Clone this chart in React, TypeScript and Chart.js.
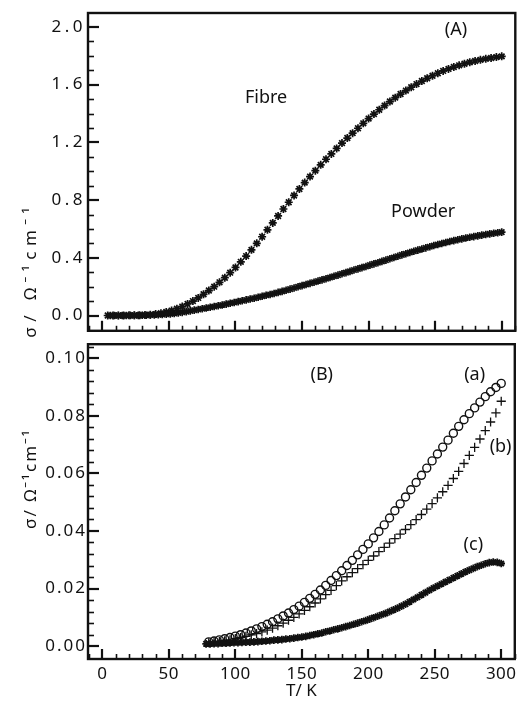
import React, { useEffect, useRef } from "react";
import { Chart, registerables } from "chart.js";

Chart.register(...registerables);

// ---------- Panel (A) ----------
const fibreT = [4, 8, 12, 16, 20, 24, 28, 32, 36, 40, 44, 48, 52, 56, 60, 64, 68, 72, 76, 80, 84, 88, 92, 96, 100, 104, 108, 112, 116, 120, 124, 128, 132, 136, 140, 144, 148, 152, 156, 160, 164, 168, 172, 176, 180, 184, 188, 192, 196, 200, 204, 208, 212, 216, 220, 224, 228, 232, 236, 240, 244, 248, 252, 256, 260, 264, 268, 272, 276, 280, 284, 288, 292, 296, 300];
const fibreSigma = [0.0, 0.0, 0.0, 0.0, 0.001, 0.001, 0.002, 0.004, 0.006, 0.01, 0.016, 0.024, 0.034, 0.047, 0.062, 0.08, 0.1, 0.122, 0.147, 0.173, 0.2, 0.23, 0.262, 0.297, 0.333, 0.372, 0.412, 0.455, 0.5, 0.546, 0.594, 0.642, 0.69, 0.738, 0.785, 0.832, 0.877, 0.921, 0.963, 1.004, 1.044, 1.083, 1.12, 1.158, 1.195, 1.23, 1.264, 1.298, 1.332, 1.365, 1.396, 1.426, 1.455, 1.483, 1.51, 1.535, 1.559, 1.582, 1.604, 1.625, 1.644, 1.662, 1.679, 1.695, 1.709, 1.722, 1.734, 1.745, 1.755, 1.764, 1.772, 1.779, 1.785, 1.791, 1.796];

const powderT = [6, 9, 12, 15, 18, 21, 24, 27, 30, 33, 36, 39, 42, 45, 48, 51, 54, 57, 60, 63, 66, 69, 72, 75, 78, 81, 84, 87, 90, 93, 96, 99, 102, 105, 108, 111, 114, 117, 120, 123, 126, 129, 132, 135, 138, 141, 144, 147, 150, 153, 156, 159, 162, 165, 168, 171, 174, 177, 180, 183, 186, 189, 192, 195, 198, 201, 204, 207, 210, 213, 216, 219, 222, 225, 228, 231, 234, 237, 240, 243, 246, 249, 252, 255, 258, 261, 264, 267, 270, 273, 276, 279, 282, 285, 288, 291, 294, 297, 300];
const powderSigma = [0.0, 0.0, 0.0, 0.0, 0.0, 0.001, 0.001, 0.001, 0.002, 0.002, 0.003, 0.004, 0.005, 0.007, 0.009, 0.011, 0.014, 0.018, 0.022, 0.027, 0.032, 0.037, 0.042, 0.047, 0.052, 0.057, 0.062, 0.068, 0.073, 0.079, 0.085, 0.09, 0.096, 0.102, 0.108, 0.114, 0.12, 0.127, 0.133, 0.14, 0.146, 0.153, 0.16, 0.167, 0.175, 0.183, 0.191, 0.199, 0.207, 0.215, 0.223, 0.231, 0.239, 0.247, 0.255, 0.263, 0.272, 0.28, 0.289, 0.297, 0.306, 0.315, 0.323, 0.332, 0.34, 0.349, 0.358, 0.366, 0.375, 0.384, 0.393, 0.402, 0.411, 0.42, 0.428, 0.437, 0.445, 0.453, 0.461, 0.469, 0.477, 0.485, 0.492, 0.499, 0.506, 0.513, 0.519, 0.525, 0.531, 0.537, 0.542, 0.547, 0.552, 0.557, 0.561, 0.566, 0.57, 0.574, 0.578];

// ---------- Panel (B) ----------
const abT = [80, 84, 88, 92, 96, 100, 104, 108, 112, 116, 120, 124, 128, 132, 136, 140, 144, 148, 152, 156, 160, 164, 168, 172, 176, 180, 184, 188, 192, 196, 200, 204, 208, 212, 216, 220, 224, 228, 232, 236, 240, 244, 248, 252, 256, 260, 264, 268, 272, 276, 280, 284, 288, 292, 296, 300];
const sigmaA = [0.0015, 0.0018, 0.0022, 0.0026, 0.003, 0.0035, 0.004, 0.0046, 0.0053, 0.006, 0.0068, 0.0076, 0.0085, 0.0095, 0.0105, 0.0115, 0.0127, 0.0139, 0.0152, 0.0166, 0.018, 0.0195, 0.0211, 0.0228, 0.0245, 0.0262, 0.028, 0.0298, 0.0317, 0.0336, 0.0355, 0.0376, 0.0398, 0.0421, 0.0445, 0.047, 0.0494, 0.0518, 0.0543, 0.0568, 0.0593, 0.0618, 0.0643, 0.0667, 0.0691, 0.0715, 0.0739, 0.0763, 0.0786, 0.0807, 0.0827, 0.0847, 0.0866, 0.0883, 0.0898, 0.0912];
const sigmaB = [0.0012, 0.0014, 0.0016, 0.0019, 0.0022, 0.0026, 0.003, 0.0034, 0.0039, 0.0044, 0.005, 0.0056, 0.0063, 0.0071, 0.008, 0.009, 0.01, 0.0112, 0.0124, 0.0137, 0.015, 0.0164, 0.0179, 0.0194, 0.021, 0.0227, 0.0241, 0.0255, 0.0269, 0.0283, 0.0298, 0.0313, 0.0328, 0.0343, 0.0358, 0.0373, 0.0389, 0.0405, 0.0422, 0.0439, 0.0457, 0.0476, 0.0495, 0.0515, 0.0536, 0.0558, 0.0582, 0.0607, 0.0634, 0.0662, 0.069, 0.0719, 0.0748, 0.0778, 0.081, 0.085];

const cT = [78, 81, 84, 87, 90, 93, 96, 99, 102, 105, 108, 111, 114, 117, 120, 123, 126, 129, 132, 135, 138, 141, 144, 147, 150, 153, 156, 159, 162, 165, 168, 171, 174, 177, 180, 183, 186, 189, 192, 195, 198, 201, 204, 207, 210, 213, 216, 219, 222, 225, 228, 231, 234, 237, 240, 243, 246, 249, 252, 255, 258, 261, 264, 267, 270, 273, 276, 279, 282, 285, 288, 291, 294, 297, 300];
const sigmaC = [0.0008, 0.0008, 0.0009, 0.0009, 0.001, 0.001, 0.0011, 0.0012, 0.0012, 0.0013, 0.0014, 0.0014, 0.0015, 0.0016, 0.0017, 0.0018, 0.0019, 0.0021, 0.0022, 0.0023, 0.0025, 0.0026, 0.0028, 0.003, 0.0032, 0.0034, 0.0037, 0.004, 0.0043, 0.0046, 0.005, 0.0053, 0.0057, 0.006, 0.0064, 0.0068, 0.0072, 0.0076, 0.008, 0.0085, 0.0089, 0.0094, 0.0099, 0.0104, 0.0109, 0.0114, 0.012, 0.0126, 0.0132, 0.0139, 0.0146, 0.0154, 0.0162, 0.017, 0.0178, 0.0186, 0.0194, 0.0202, 0.0209, 0.0216, 0.0223, 0.023, 0.0237, 0.0244, 0.0251, 0.0258, 0.0264, 0.027, 0.0276, 0.0281, 0.0286, 0.029, 0.0292, 0.0291, 0.0287];

// ---------- Axes ----------
const xTickLabels = [0, 50, 100, 150, 200, 250, 300];
const topYTicks = [0.0, 0.4, 0.8, 1.2, 1.6, 2.0];
const bottomYTicks = [0.0, 0.02, 0.04, 0.06, 0.08, 0.1];

const X_MIN = -10.8;
const X_MAX = 310.2;
const TOP_Y_MIN = -0.106;
const TOP_Y_MAX = 2.0966;
const BOT_Y_MIN = -0.00444;
const BOT_Y_MAX = 0.1048;

const FONT = "'Noto Sans', 'DejaVu Sans', sans-serif";
const INK = "#111";

const pts = (xs: number[], ys: number[]) => xs.map((x, i) => ({ x, y: ys[i] }));

const range = (a: number, b: number, s: number) => {
  const out: number[] = [];
  for (let v = a; v <= b + s * 1e-6; v += s) out.push(+v.toFixed(6));
  return out;
};

function patchScale(scale: any, labelSpacing: string, titleSpacing: string, titleShift: number) {
  if (scale.__patched) return;
  scale.__patched = true;
  const dl = scale.drawLabels.bind(scale);
  scale.drawLabels = (area: any) => {
    const ctx = scale.ctx;
    ctx.save();
    (ctx as any).letterSpacing = labelSpacing;
    dl(area);
    ctx.restore();
  };
  const dt = scale.drawTitle.bind(scale);
  scale.drawTitle = () => {
    const ctx = scale.ctx;
    ctx.save();
    (ctx as any).letterSpacing = titleSpacing;
    ctx.translate(0, titleShift);
    dt();
    ctx.restore();
  };
}

const framePlugin = {
  id: "frameTicks",
  afterDatasetsDraw(chart: any, _args: any, opts: any) {
    const { ctx, chartArea } = chart;
    const xs = chart.scales.x;
    const ys = chart.scales.y;
    ctx.save();
    ctx.strokeStyle = INK;
    ctx.lineWidth = 1.6;
    for (const v of opts.xMinor) {
      const px = Math.round(xs.getPixelForValue(v)) + 0.5;
      ctx.beginPath();
      ctx.moveTo(px, chartArea.bottom);
      ctx.lineTo(px, chartArea.bottom - 5);
      ctx.stroke();
    }
    ctx.lineWidth = 2.2;
    for (const v of opts.xMajor) {
      const px = Math.round(xs.getPixelForValue(v));
      ctx.beginPath();
      ctx.moveTo(px, chartArea.bottom);
      ctx.lineTo(px, chartArea.bottom - 10);
      ctx.stroke();
    }
    ctx.lineWidth = 1.6;
    for (const v of opts.yMinor) {
      const py = Math.round(ys.getPixelForValue(v)) + 0.5;
      ctx.beginPath();
      ctx.moveTo(chartArea.left, py);
      ctx.lineTo(chartArea.left + 6, py);
      ctx.stroke();
    }
    ctx.lineWidth = 2.2;
    for (const v of opts.yMajor) {
      const py = Math.round(ys.getPixelForValue(v));
      ctx.beginPath();
      ctx.moveTo(chartArea.left, py);
      ctx.lineTo(chartArea.left + 11, py);
      ctx.stroke();
    }
    ctx.lineWidth = 2.4;
    ctx.strokeRect(chartArea.left, chartArea.top, chartArea.right - chartArea.left, chartArea.bottom - chartArea.top);
    ctx.fillStyle = INK;
    ctx.font = `18px ${FONT}`;
    ctx.textAlign = "center";
    ctx.textBaseline = "middle";
    for (const a of opts.notes) {
      ctx.fillText(a.text, xs.getPixelForValue(a.x), ys.getPixelForValue(a.y));
    }
    ctx.restore();
  },
};

const commonPoint = {
  showLine: false,
  borderColor: INK,
  backgroundColor: "rgba(0,0,0,0)",
  pointBorderColor: INK,
  pointBackgroundColor: "rgba(0,0,0,0)",
};

export default function App() {
  const topRef = useRef<HTMLCanvasElement | null>(null);
  const botRef = useRef<HTMLCanvasElement | null>(null);

  useEffect(() => {
    const top = new Chart(topRef.current as HTMLCanvasElement, {
      type: "scatter",
      data: {
        datasets: [
          { ...commonPoint, label: "Fibre", data: pts(fibreT, fibreSigma), pointStyle: "star", pointRadius: 4, pointBorderWidth: 1.7 },
          { ...commonPoint, label: "Powder", data: pts(powderT, powderSigma), pointStyle: "star", pointRadius: 3.8, pointBorderWidth: 1.7 },
        ],
      },
      plugins: [framePlugin],
      options: {
        responsive: false,
        animation: false,
        events: [],
        layout: { padding: { top: 13, left: 0, right: 2, bottom: 4 } },
        plugins: {
          legend: { display: false },
          tooltip: { enabled: false },
          frameTicks: {
            xMajor: xTickLabels,
            xMinor: range(-10, 310, 10).filter((v) => v % 50 !== 0),
            yMajor: topYTicks,
            yMinor: range(0.1, 2.0, 0.1).filter((v) => Math.abs(v / 0.4 - Math.round(v / 0.4)) > 1e-6),
            notes: [
              { text: "(A)", x: 265.6, y: 1.98 },
              { text: "Fibre", x: 123, y: 1.51 },
              { text: "Powder", x: 241, y: 0.72 },
            ],
          },
        } as any,
        scales: {
          x: { type: "linear", display: false, min: X_MIN, max: X_MAX },
          y: {
            type: "linear",
            min: TOP_Y_MIN,
            max: TOP_Y_MAX,
            afterBuildTicks: (s: any) => {
              s.ticks = topYTicks.map((value) => ({ value }));
            },
            afterFit: (s: any) => {
              s.width = 88;
              patchScale(s, "3.5px", "5.5px", 7);
            },
            grid: { display: false, drawTicks: false },
            border: { display: false },
            ticks: {
              padding: 2,
              color: INK,
              font: { family: FONT, size: 17 },
              autoSkip: false,
              callback: (v: any) => Number(v).toFixed(1),
            },
            title: {
              display: true,
              text: "σ/ Ω⁻¹cm⁻¹",
              align: "start",
              color: INK,
              font: { family: FONT, size: 17 },
              padding: { top: 21, bottom: 0 },
            },
          },
        },
      } as any,
    });

    const bot = new Chart(botRef.current as HTMLCanvasElement, {
      type: "scatter",
      data: {
        datasets: [
          { ...commonPoint, label: "(a)", data: pts(abT, sigmaA), pointStyle: "circle", pointRadius: 4, pointBorderWidth: 1.4 },
          { ...commonPoint, label: "(b)", data: pts(abT, sigmaB), pointStyle: "cross", pointRadius: 4.6, pointBorderWidth: 1.3 },
          { ...commonPoint, label: "(c)", data: pts(cT, sigmaC), pointStyle: "star", pointRadius: 3.8, pointBorderWidth: 1.8 },
        ],
      },
      plugins: [framePlugin],
      options: {
        responsive: false,
        animation: false,
        events: [],
        layout: { padding: { top: 6, left: 0, right: 2, bottom: 0 } },
        plugins: {
          legend: { display: false },
          tooltip: { enabled: false },
          frameTicks: {
            xMajor: xTickLabels,
            xMinor: range(-10, 310, 10).filter((v) => v % 50 !== 0),
            yMajor: bottomYTicks,
            yMinor: range(0.004, 0.104, 0.004).filter((v) => Math.abs(v / 0.02 - Math.round(v / 0.02)) > 1e-6),
            notes: [
              { text: "(B)", x: 165, y: 0.094 },
              { text: "(a)", x: 280, y: 0.094 },
              { text: "(b)", x: 299.5, y: 0.0692 },
              { text: "(c)", x: 279, y: 0.0351 },
            ],
          },
        } as any,
        scales: {
          x: {
            type: "linear",
            min: X_MIN,
            max: X_MAX,
            afterBuildTicks: (s: any) => {
              s.ticks = xTickLabels.map((value) => ({ value }));
            },
            afterFit: (s: any) => {
              s.height = 44;
              patchScale(s, "0.5px", "0px", 0);
            },
            grid: { display: false, drawTicks: false },
            border: { display: false },
            ticks: {
              padding: 5,
              color: INK,
              maxRotation: 0,
              autoSkip: false,
              font: { family: FONT, size: 17 },
              callback: (v: any) => String(v),
            },
            title: {
              display: true,
              text: "T/ K",
              color: INK,
              font: { family: FONT, size: 17 },
              padding: { top: 0, bottom: 2 },
            },
          },
          y: {
            type: "linear",
            min: BOT_Y_MIN,
            max: BOT_Y_MAX,
            afterBuildTicks: (s: any) => {
              s.ticks = bottomYTicks.map((value) => ({ value }));
            },
            afterFit: (s: any) => {
              s.width = 88;
              patchScale(s, "2px", "2px", -23);
            },
            grid: { display: false, drawTicks: false },
            border: { display: false },
            ticks: {
              padding: 1,
              color: INK,
              font: { family: FONT, size: 17 },
              autoSkip: false,
              callback: (v: any) => Number(v).toFixed(2),
            },
            title: {
              display: true,
              text: "σ/ Ω⁻¹cm⁻¹",
              color: INK,
              font: { family: FONT, size: 17 },
              padding: { top: 21, bottom: 0 },
            },
          },
        },
      } as any,
    });

    return () => {
      top.destroy();
      bot.destroy();
    };
  }, []);

  return (
    <div style={{ position: "absolute", left: 0, top: 0, width: 521, height: 703, background: "#fff" }}>
      <canvas ref={topRef} width={521} height={343} style={{ position: "absolute", left: 0, top: 0, width: 521, height: 343 }} />
      <canvas ref={botRef} width={521} height={370} style={{ position: "absolute", left: 0, top: 333, width: 521, height: 370 }} />
    </div>
  );
}
